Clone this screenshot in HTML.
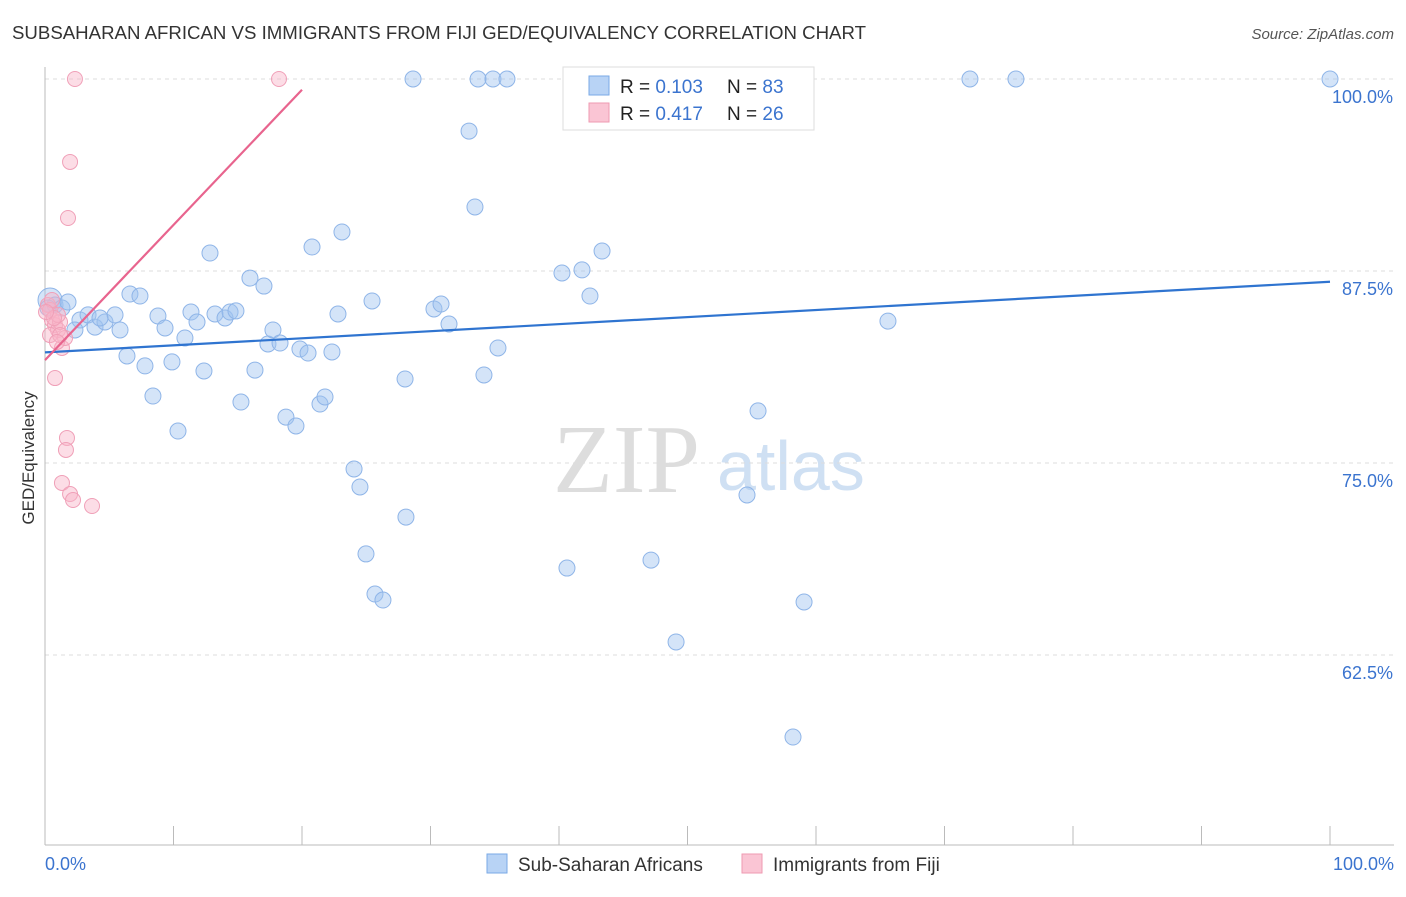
<!DOCTYPE html>
<html><head><meta charset="utf-8"><style>
body{margin:0;background:#fff;font-family:"Liberation Sans",sans-serif;}
</style></head><body>
<svg width="1406" height="892" xmlns="http://www.w3.org/2000/svg" id="chart" font-family="Liberation Sans, sans-serif">
<text x="12" y="39" font-size="18" fill="#333" textLength="854" lengthAdjust="spacingAndGlyphs">SUBSAHARAN AFRICAN VS IMMIGRANTS FROM FIJI GED/EQUIVALENCY CORRELATION CHART</text>
<text x="1394" y="39" font-size="15" fill="#555" font-style="italic" text-anchor="end">Source: ZipAtlas.com</text>
<text x="34" y="458" font-size="17" fill="#333" text-anchor="middle" transform="rotate(-90 34 458)">GED/Equivalency</text>
<text x="553" y="492" font-size="98" fill="#ddd" style="font-family:'Liberation Serif',serif">ZIP</text>
<text x="717" y="490" font-size="70" fill="#cfe0f3">atlas</text>
<g id="grid"></g><g id="axes"></g><g id="pts"></g><g id="trend"></g>
<g>
<rect x="563" y="67" width="251" height="63" fill="#fff" stroke="#ddd"/>
<rect x="589" y="76" width="20" height="19" fill="#b8d3f5" stroke="#7aa9e6"/>
<rect x="589" y="103" width="20" height="19" fill="#fac5d4" stroke="#ef9ab2"/>
<text x="620" y="93" font-size="19" fill="#222">R = <tspan fill="#3b74cf">0.103</tspan></text>
<text x="727" y="93" font-size="19" fill="#222">N = <tspan fill="#3b74cf">83</tspan></text>
<text x="620" y="120" font-size="19" fill="#222">R = <tspan fill="#3b74cf">0.417</tspan></text>
<text x="727" y="120" font-size="19" fill="#222">N = <tspan fill="#3b74cf">26</tspan></text>
</g>
<g>
<rect x="487" y="854" width="20" height="19" fill="#b8d3f5" stroke="#7aa9e6"/>
<text x="518" y="871" font-size="19" fill="#333">Sub-Saharan Africans</text>
<rect x="742" y="854" width="20" height="19" fill="#fac5d4" stroke="#ef9ab2"/>
<text x="773" y="871" font-size="19" fill="#333">Immigrants from Fiji</text>
</g>
<text x="45" y="870" font-size="18" fill="#3b74cf">0.0%</text>
<text x="1394" y="870" font-size="18" fill="#3b74cf" text-anchor="end">100.0%</text>
</svg>
<script>
const yTicks=[100,87.5,75,62.5];
const yTickLabels=["100.0%","87.5%","75.0%","62.5%"];
const xTicks=[0,10,20,30,40,50,60,70,80,90,100];
const bluePx=[[50,300],[55,305],[62,308],[68,302],[80,320],[88,315],[95,327],[75,330],[105,322],[115,315],[120,330],[127,356],[130,294],[140,296],[145,366],[153,396],[158,316],[165,328],[172,362],[178,431],[185,338],[191,312],[197,322],[204,371],[210,253],[215,314],[225,318],[230,312],[236,311],[241,402],[250,278],[255,370],[264,286],[268,344],[273,330],[280,343],[286,417],[296,426],[300,349],[308,353],[312,247],[320,404],[325,397],[332,352],[338,314],[342,232],[354,469],[360,487],[366,554],[372,301],[375,594],[383,600],[405,379],[406,517],[413,79],[434,309],[441,304],[449,324],[469,131],[475,207],[478,79],[484,375],[493,79],[498,348],[507,79],[562,273],[567,568],[582,270],[590,296],[602,251],[651,560],[676,642],[717,79],[747,495],[758,411],[793,737],[804,602],[888,321],[970,79],[1016,79],[1330,79],[48,308],[100,318]];
const pinkPx=[[75,79],[279,79],[70,162],[68,218],[48,305],[50,310],[52,320],[55,325],[58,330],[60,322],[50,335],[62,348],[65,338],[55,378],[67,438],[66,450],[62,483],[70,494],[73,500],[92,506],[58,315],[52,300],[54,318],[60,335],[46,312],[57,342]];
const blueX=bluePx.map(p=>+((p[0]-45)/12.85).toFixed(2));
const blueY=bluePx.map(p=>+(100-(p[1]-79)/15.36).toFixed(2));
const pinkX=pinkPx.map(p=>+((p[0]-45)/12.85).toFixed(2));
const pinkY=pinkPx.map(p=>+(100-(p[1]-79)/15.36).toFixed(2));
const blueTrend=[[0,82.2],[100,86.8]];
const pinkTrend=[[0,81.7],[20,99.3]];
const X=v=>45+v*12.85, Y=v=>79+(100-v)*15.36;
const NS="http://www.w3.org/2000/svg";
function mk(tag,attrs,parent){const e=document.createElementNS(NS,tag);for(const k in attrs)e.setAttribute(k,attrs[k]);document.getElementById(parent).appendChild(e);return e;}
yTicks.forEach((t,i)=>{
 const l=mk('line',{x1:45,x2:1394,y1:Y(t),y2:Y(t),stroke:'#ddd','stroke-dasharray':'4,4'},'grid');
 
 
 const tx=mk('text',{x:1393,y:Y(t)+24,'font-size':18,fill:'#3b74cf','text-anchor':'end'},'grid');
 tx.textContent=yTickLabels[i];
 
 
});
const ax=mk('line',{x1:45,x2:1394,y1:845,y2:845,stroke:'#bbb'},'axes');


const ay=mk('line',{x1:45,x2:45,y1:67,y2:845,stroke:'#bbb'},'axes');


xTicks.forEach(t=>{const l=mk('line',{x1:X(t),x2:X(t),y1:826,y2:845,stroke:'#bbb'},'axes');
 
 });
blueX.forEach((x,i)=>{const r=(i===0)?12:8;const c=mk('circle',{cx:X(x),cy:Y(blueY[i]),r:r,fill:'rgba(160,196,240,0.45)',stroke:'#8fb5e8','stroke-width':1},'pts');
 
 });
pinkX.forEach((x,i)=>{const c=mk('circle',{cx:X(x),cy:Y(pinkY[i]),r:7.5,fill:'rgba(248,180,200,0.45)',stroke:'#f0a0b8','stroke-width':1},'pts');
 
 });
const bt=mk('line',{x1:X(blueTrend[0][0]),y1:Y(blueTrend[0][1]),x2:X(blueTrend[1][0]),y2:Y(blueTrend[1][1]),stroke:'#2f74d0','stroke-width':2.2},'trend');


const pt=mk('line',{x1:X(pinkTrend[0][0]),y1:Y(pinkTrend[0][1]),x2:X(pinkTrend[1][0]),y2:Y(pinkTrend[1][1]),stroke:'#e8648e','stroke-width':2.2},'trend');


</script>
</body></html>
